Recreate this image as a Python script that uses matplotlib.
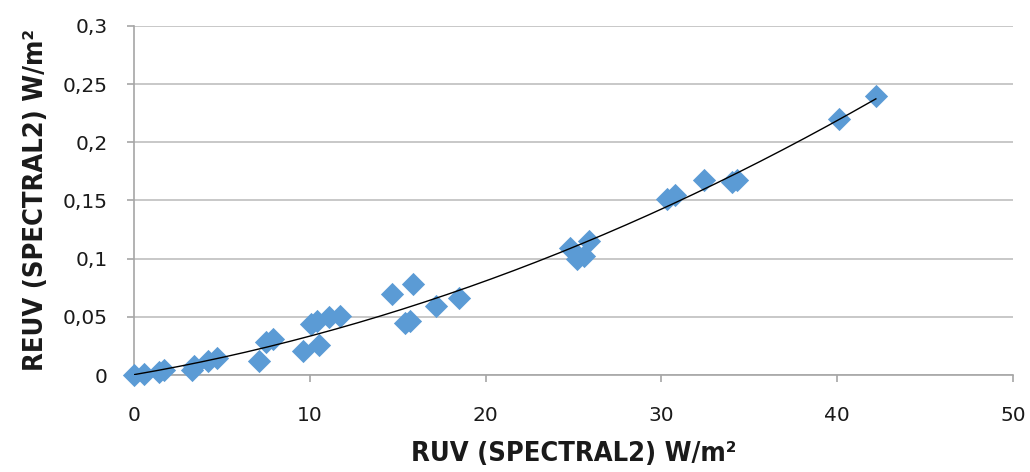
import matplotlib
matplotlib.use("Agg")
import matplotlib.pyplot as plt
import numpy as np
from matplotlib.ticker import FuncFormatter

x_vals = [0.0, 0.6, 1.4, 1.7, 3.3, 3.4, 4.2, 4.7, 7.1, 7.5, 7.9, 9.6, 10.1, 10.4, 10.5,
          11.1, 11.7, 14.7, 15.4, 15.7, 15.9, 17.2, 18.5, 24.8, 25.2, 25.6, 25.9,
          30.3, 30.8, 32.4, 34.0, 34.3, 40.1, 42.2]
y_vals = [0.000, 0.001, 0.003, 0.004, 0.004, 0.008, 0.012, 0.015, 0.012, 0.028, 0.031,
          0.021, 0.044, 0.046, 0.026, 0.050, 0.051, 0.070, 0.045, 0.046, 0.078, 0.059,
          0.066, 0.109, 0.100, 0.102, 0.115, 0.151, 0.155, 0.168, 0.166, 0.168, 0.220, 0.240]

x_ticks = [0, 10, 20, 30, 40, 50]
y_ticks = [0, 0.05, 0.1, 0.15, 0.2, 0.25, 0.3]
x_label = "RUV (SPECTRAL2) W/m²"
y_label = "REUV (SPECTRAL2) W/m²"

plt.rcParams['font.family'] = ['DejaVu Sans']

fig = plt.figure(figsize=(10.30, 4.72), dpi=100)
ax = fig.add_axes([0.130, 0.2055, 0.8535, 0.7395])

grey = '#a6a6a6'
ax.set_xlim(0, 50)
ax.set_ylim(0, 0.3)
ax.set_xticks(x_ticks)
ax.set_yticks(y_ticks)
ax.yaxis.grid(True, color='#bfbfbf', linewidth=1.2)
ax.set_axisbelow(True)
for s in ['top', 'right']:
    ax.spines[s].set_visible(False)
for s in ['left', 'bottom']:
    ax.spines[s].set_color(grey)
    ax.spines[s].set_linewidth(1.2)
ax.tick_params(axis='both', colors=grey, length=5, width=1.2, labelsize=14.5,
               labelcolor='#1a1a1a')
ax.tick_params(axis='x', pad=17)
ax.tick_params(axis='y', pad=14)

def fmt(v, pos):
    return ('%g' % v).replace('.', ',')
ax.yaxis.set_major_formatter(FuncFormatter(fmt))
ax.xaxis.set_major_formatter(FuncFormatter(fmt))

ax.scatter(x_vals, y_vals, marker='D', s=140, color='#5b9bd5', zorder=3, clip_on=False,
           linewidths=0)

coef = np.polyfit(x_vals, y_vals, 2)
xs = np.linspace(min(x_vals), max(x_vals), 200)
ax.plot(xs, np.polyval(coef, xs), color='black', linewidth=1.0, zorder=4)

ax.set_xlabel(x_label, fontsize=19.5, fontweight='bold', fontstretch='condensed',
              color='#1a1a1a', labelpad=12)
ax.set_ylabel(y_label, fontsize=19.5, fontweight='bold', fontstretch='condensed',
              color='#1a1a1a', labelpad=10)

fig.savefig('out.png', dpi=100)
